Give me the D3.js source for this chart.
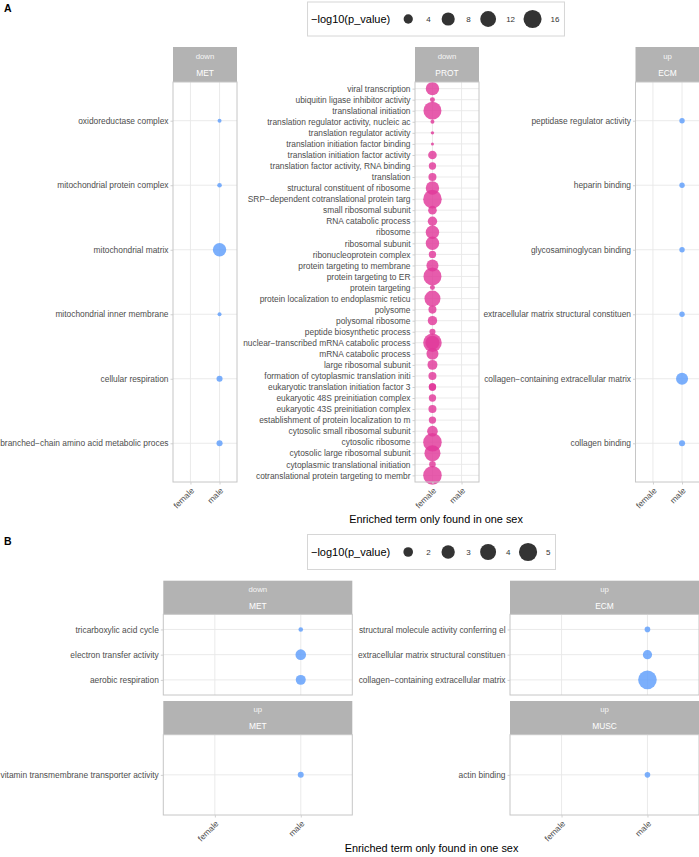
<!DOCTYPE html>
<html><head><meta charset="utf-8">
<script src="https://cdn.jsdelivr.net/npm/d3@7"></script>
<style>body{margin:0;background:#fff}svg{display:block}text{font-family:"Liberation Sans",Arial,Helvetica,sans-serif}</style>
</head><body><svg id="c" width="699" height="857"></svg>
<script>
// ---------------- DATA ----------------
const sexLevels = ["female", "male"];
const legendBreaksA = [4, 8, 12, 16];
const legendBreaksB = [2, 3, 4, 5];
const sizeLimitsA = [1.5, 17];
const sizeLimitsB = [1.3, 5.2];
const xTitle = "Enriched term only found in one sex";
const legendTitle = "\u2212log10(p_value)";

// Panel A — down / MET (male); terms listed bottom to top
const aMetTerms = ["branched\u2212chain amino acid metabolic proces", "cellular respiration",
  "mitochondrial inner membrane", "mitochondrial matrix", "mitochondrial protein complex", "oxidoreductase complex"];
const aMetValues = [2.1, 2.1, 1.56, 8.4, 1.66, 1.56];

// Panel A — down / PROT (female)
const aProtTerms = ["cotranslational protein targeting to membr", "cytoplasmic translational initiation",
  "cytosolic large ribosomal subunit", "cytosolic ribosome", "cytosolic small ribosomal subunit",
  "establishment of protein localization to m", "eukaryotic 43S preinitiation complex",
  "eukaryotic 48S preinitiation complex", "eukaryotic translation initiation factor 3",
  "formation of cytoplasmic translation initi", "large ribosomal subunit", "mRNA catabolic process",
  "nuclear\u2212transcribed mRNA catabolic process", "peptide biosynthetic process", "polysomal ribosome",
  "polysome", "protein localization to endoplasmic reticu", "protein targeting", "protein targeting to ER",
  "protein targeting to membrane", "ribonucleoprotein complex", "ribosomal subunit", "ribosome",
  "RNA catabolic process", "small ribosomal subunit", "SRP\u2212dependent cotranslational protein targ",
  "structural constituent of ribosome", "translation", "translation factor activity, RNA binding",
  "translation initiation factor activity", "translation initiation factor binding",
  "translation regulator activity", "translation regulator activity, nucleic ac",
  "translational initiation", "ubiquitin ligase inhibitor activity", "viral transcription"];
const aProtValues = [16.9, 2.3, 12.3, 16.9, 5.2, 2.7, 3.1, 2.7, 2.7, 3.1, 4.6, 6.7, 16.9, 2.1, 4.1, 3.1,
  12.3, 1.75, 15.8, 6.7, 2.7, 8.4, 8.4, 4.1, 3.5, 16.9, 8.4, 3.1, 2.7, 3.5, 1.5, 1.51, 1.56, 15.8, 1.75, 8.4];
// repeated (overlapping) entries in PROT
const aProtExtraTerms = ["nuclear\u2212transcribed mRNA catabolic process", "eukaryotic translation initiation factor 3"];
const aProtExtraValues = [9.2, 2.7];

// Panel A — up / ECM (male)
const aEcmTerms = ["collagen binding", "collagen\u2212containing extracellular matrix",
  "extracellular matrix structural constituen", "glycosaminoglycan binding", "heparin binding",
  "peptidase regulator activity"];
const aEcmValues = [2.1, 6.7, 1.86, 1.86, 1.86, 1.86];

// Panel B — down / MET (male)
const bMetDownTerms = ["aerobic respiration", "electron transfer activity", "tricarboxylic acid cycle"];
const bMetDownValues = [2.08, 2.22, 1.34];
// Panel B — up / ECM (male)
const bEcmTerms = ["collagen\u2212containing extracellular matrix", "extracellular matrix structural constituen",
  "structural molecule activity conferring el"];
const bEcmValues = [5.2, 1.92, 1.41];
// Panel B — up / MET (male)
const bMetUpTerms = ["vitamin transmembrane transporter activity"];
const bMetUpValues = [1.44];
// Panel B — up / MUSC (male)
const bMuscTerms = ["actin binding"];
const bMuscValues = [1.41];

// ---------------- DRAWING ----------------
const svg = d3.select("#c");
const FONT = '"Liberation Sans", Arial, Helvetica, sans-serif';
const sexColor = d3.scaleOrdinal().domain(sexLevels).range(["#E0389A", "#5E9DFB"]);

function sizeScale(lims) {
  const t = d3.scaleLinear().domain(lims).range([0, 1]).clamp(true);
  const r = d3.scaleLinear().domain([0, 1]).range([1.5, 9.3]);
  return v => r(Math.sqrt(t(v)));
}

function makeFacet(dir, cat, sex, terms, values, extraTerms, extraValues) {
  const pts = terms.map((t, i) => ({term: t, sex: sex, v: values[i]}));
  (extraTerms || []).forEach((t, i) => pts.push({term: t, sex: sex, v: extraValues[i]}));
  return {dir, cat, terms, pts};
}

function drawFacet(f, box, rOf, showX) {
  const g = svg.append("g");
  const w = box.x1 - box.x0;
  const sh = box.panelTop - box.stripTop;
  g.append("rect").attr("x", box.x0).attr("y", box.stripTop).attr("width", w).attr("height", sh).attr("fill", "#b3b3b3");
  g.append("text").attr("x", box.x0 + w / 2).attr("y", box.stripTop + sh * 0.26).attr("dy", "0.35em")
    .attr("text-anchor", "middle").attr("fill", "#f5f5f5").attr("font-size", 7.8).text(f.dir);
  g.append("text").attr("x", box.x0 + w / 2).attr("y", box.stripTop + sh * 0.75).attr("dy", "0.35em")
    .attr("text-anchor", "middle").attr("fill", "#ffffff").attr("font-size", 8.4).text(f.cat);

  const x = d3.scalePoint().domain(sexLevels).range([box.x0, box.x1]).padding(0.6);
  const y = d3.scalePoint().domain(f.terms).range([box.panelBottom, box.panelTop]).padding(0.6);

  g.selectAll(null).data(f.terms).join("line")
    .attr("x1", box.x0).attr("x2", box.x1).attr("y1", d => y(d)).attr("y2", d => y(d))
    .attr("stroke", "#e8e8e8").attr("stroke-width", 0.9);
  g.selectAll(null).data(sexLevels).join("line")
    .attr("x1", d => x(d)).attr("x2", d => x(d)).attr("y1", box.panelTop).attr("y2", box.panelBottom)
    .attr("stroke", "#e8e8e8").attr("stroke-width", 0.9);

  const ya = g.append("g").attr("transform", `translate(${box.x0},0)`)
    .call(d3.axisLeft(y).tickSize(2.5).tickPadding(2));
  ya.attr("font-family", FONT).attr("font-size", 8.4);
  ya.select(".domain").remove();
  ya.selectAll("line").attr("stroke", "#d0d0d0");
  ya.selectAll("text").attr("fill", "#4d4d4d");

  g.selectAll(null).data(f.pts).join("circle")
    .attr("cx", d => x(d.sex)).attr("cy", d => y(d.term)).attr("r", d => rOf(d.v))
    .attr("fill", d => sexColor(d.sex)).attr("fill-opacity", 0.82);

  g.append("rect").attr("x", box.x0).attr("y", box.panelTop).attr("width", w)
    .attr("height", box.panelBottom - box.panelTop).attr("fill", "none").attr("stroke", "#c6c6c6").attr("stroke-width", 1);

  if (showX) {
    const xa = g.append("g").attr("transform", `translate(0,${box.panelBottom})`)
      .call(d3.axisBottom(x).tickSize(2.5));
    xa.attr("font-family", FONT).attr("font-size", 8.4);
    xa.select(".domain").remove();
    xa.selectAll("line").attr("stroke", "#d0d0d0");
    xa.selectAll("text").attr("fill", "#4d4d4d").attr("x", 0).attr("y", 0).attr("dy", "0.71em")
      .attr("text-anchor", "end").attr("transform", "translate(-0.5,5) rotate(-45)");
  }
}

function drawLegend(breaks, rOf, cx, top, height) {
  const g = svg.append("g");
  const midY = top + height / 2;
  const title = g.append("text").attr("y", midY).attr("dy", "0.35em").attr("font-size", 11).attr("fill", "#000").text(legendTitle);
  const titleW = title.node().getComputedTextLength();
  let cursor = titleW;
  const items = [];
  breaks.forEach(b => {
    const c = cursor + 18;
    const lab = g.append("text").attr("y", midY).attr("dy", "0.35em").attr("font-size", 8).attr("fill", "#333").text(b);
    const lw = lab.node().getComputedTextLength();
    items.push({b, c, lab, lx: c + 18});
    cursor = c + 18 + lw - 0.5;
  });
  const innerW = cursor + 5.5;
  const pad = 3.5;
  const boxW = innerW + pad;
  const left = cx - boxW / 2;
  g.insert("rect", ":first-child").attr("x", left).attr("y", top).attr("width", boxW).attr("height", height)
    .attr("fill", "#fff").attr("stroke", "#d6d6d6").attr("stroke-width", 1);
  title.attr("x", left + pad);
  items.forEach(it => {
    g.append("circle").attr("cx", left + pad + it.c).attr("cy", midY).attr("r", rOf(it.b)).attr("fill", "#333");
    it.lab.attr("x", left + pad + it.lx);
  });
}

// ----- Panel A -----
const rA = sizeScale(sizeLimitsA);
svg.append("text").attr("x", 4).attr("y", 12).attr("font-size", 10.5).attr("font-weight", "bold").text("A");
const aFacets = [
  makeFacet("down", "MET", "male", aMetTerms, aMetValues),
  makeFacet("down", "PROT", "female", aProtTerms, aProtValues, aProtExtraTerms, aProtExtraValues),
  makeFacet("up", "ECM", "male", aEcmTerms, aEcmValues)
];
const aCols = [[173, 237], [415, 479], [635.5, 699.5]];
aFacets.forEach((f, i) => drawFacet(f, {x0: aCols[i][0], x1: aCols[i][1], stripTop: 47, panelTop: 82, panelBottom: 482}, rA, true));
drawLegend(legendBreaksA, rA, 436, 2, 34);
svg.append("text").attr("x", 436).attr("y", 519).attr("dy", "0.35em").attr("text-anchor", "middle")
  .attr("font-size", 10.9).attr("fill", "#000").text(xTitle);

// ----- Panel B -----
const rB = sizeScale(sizeLimitsB);
svg.append("text").attr("x", 4).attr("y", 545).attr("font-size", 10.5).attr("font-weight", "bold").text("B");
const bFacets = [
  makeFacet("down", "MET", "male", bMetDownTerms, bMetDownValues),
  makeFacet("up", "ECM", "male", bEcmTerms, bEcmValues),
  makeFacet("up", "MET", "male", bMetUpTerms, bMetUpValues),
  makeFacet("up", "MUSC", "male", bMuscTerms, bMuscValues)
];
const bCols = [[163.3, 352.3], [510, 699]];
const bRows = [{stripTop: 580.7, panelTop: 614.3, panelBottom: 695}, {stripTop: 701, panelTop: 734.7, panelBottom: 815}];
bFacets.forEach((f, i) => {
  const c = bCols[i % 2], r = bRows[Math.floor(i / 2)];
  drawFacet(f, {x0: c[0], x1: c[1], stripTop: r.stripTop, panelTop: r.panelTop, panelBottom: r.panelBottom}, rB, i >= 2);
});
drawLegend(legendBreaksB, rB, 431.5, 534.5, 35);
svg.append("text").attr("x", 431.5).attr("y", 848).attr("dy", "0.35em").attr("text-anchor", "middle")
  .attr("font-size", 10.9).attr("fill", "#000").text(xTitle);
</script></body></html>
